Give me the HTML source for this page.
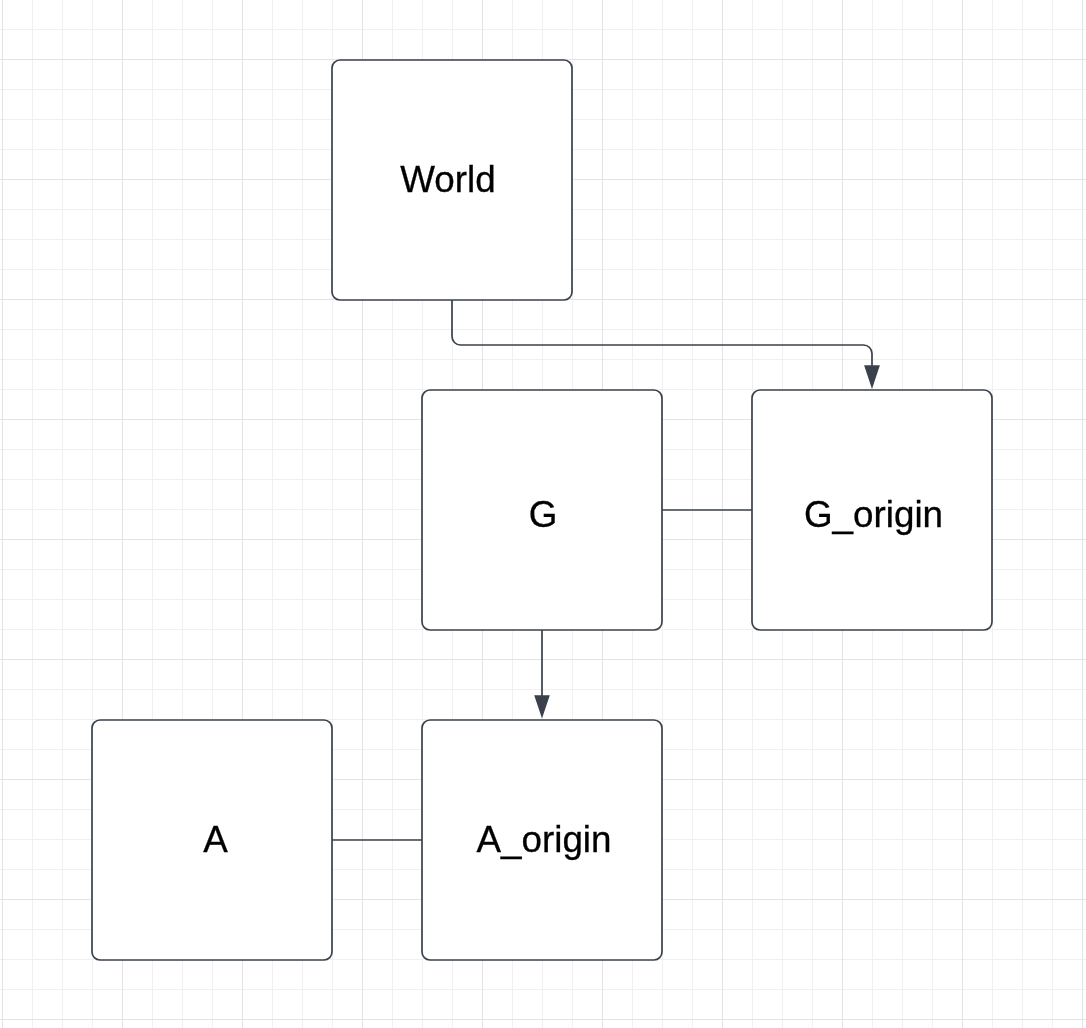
<!DOCTYPE html>
<html lang="en">
<head>
<meta charset="utf-8">
<title>Diagram</title>
<style>
  html, body { margin: 0; padding: 0; background: #ffffff; }
  body { width: 1086px; height: 1028px; overflow: hidden; position: relative; }
  svg { position: absolute; left: 0; top: 0; display: block; }
  svg.labels { will-change: transform; }
  text { font-family: "Liberation Sans", Arial, Helvetica, sans-serif; font-size: 36.8px; fill: #000000; stroke: #000000; stroke-width: 0.3px; }
</style>
</head>
<body>
<svg width="1086" height="1028" viewBox="0 0 1086 1028">
  <defs>
    <pattern id="minor" x="2" y="29" width="30" height="30" patternUnits="userSpaceOnUse">
      <rect x="0" y="0" width="1" height="30" fill="#f0f0f0"/>
      <rect x="0" y="0" width="30" height="1" fill="#f0f0f0"/>
    </pattern>
    <pattern id="major" x="2" y="59" width="120" height="120" patternUnits="userSpaceOnUse">
      <rect x="0" y="0" width="1" height="120" fill="#e3e3e3"/>
      <rect x="0" y="0" width="120" height="1" fill="#e3e3e3"/>
    </pattern>
  </defs>
  <rect x="0" y="0" width="1086" height="1028" fill="#ffffff"/>
  <rect x="0" y="0" width="1086" height="1028" fill="url(#minor)" shape-rendering="crispEdges"/>
  <rect x="0" y="0" width="1086" height="1028" fill="url(#major)" shape-rendering="crispEdges"/>

  <g fill="#ffffff" stroke="#3a414a" stroke-width="1.7">
    <rect x="332" y="60" width="240" height="240" rx="8" ry="8"/>
    <rect x="422" y="390" width="240" height="240" rx="8" ry="8"/>
    <rect x="752" y="390" width="240" height="240" rx="8" ry="8"/>
    <rect x="92" y="720" width="240" height="240" rx="8" ry="8"/>
    <rect x="422" y="720" width="240" height="240" rx="8" ry="8"/>
  </g>

  <g fill="none" stroke="#3a414a" stroke-width="1.7">
    <path d="M452 300 V336.5 A8.5 8.5 0 0 0 460.5 345 H863.5 A8.5 8.5 0 0 1 872 353.5 V366"/>
    <path d="M662 510 H752"/>
    <path d="M542 630 V696"/>
    <path d="M332 840 H422"/>
  </g>
  <g fill="#3a414a" stroke="none">
    <path d="M864.1 365.2 H879.9 L872 389 Z"/>
    <path d="M534.2 695.2 H549.8 L542 718.5 Z"/>
  </g>

</svg>
<svg class="labels" width="1086" height="1028" viewBox="0 0 1086 1028">
  <g text-anchor="middle">
    <text x="448" y="192">World</text>
    <text x="543" y="527.2">G</text>
    <text x="873.5" y="527.2">G_origin</text>
    <text x="215.4" y="851.7">A</text>
    <text x="544" y="851.8">A_origin</text>
  </g>
</svg>
</body>
</html>
